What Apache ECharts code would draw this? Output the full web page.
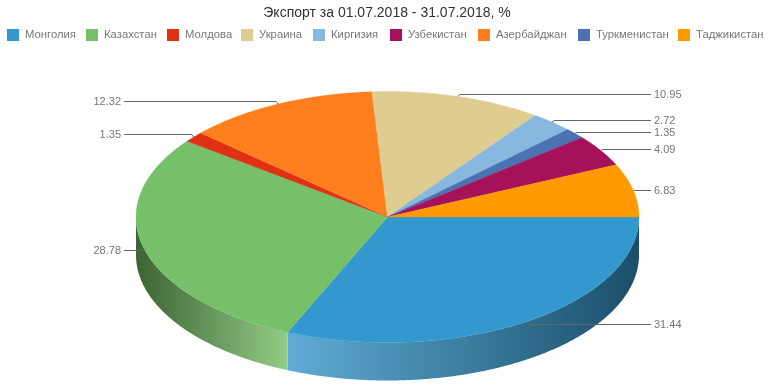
<!DOCTYPE html>
<html><head><meta charset="utf-8">
<style>html,body{margin:0;padding:0;background:#fff}#c{width:774px;height:387px}</style>
<script src="https://cdn.jsdelivr.net/npm/echarts@6/dist/echarts.min.js"></script>
</head><body><div id="c"></div>
<script>
var sliceNames = ['Монголия','Казахстан','Молдова','Азербайджан','Украина','Киргизия','Туркменистан','Узбекистан','Таджикистан'];
var sliceValues = [31.44,28.78,1.35,12.32,10.95,2.72,1.35,4.09,6.83];
var sliceColors = ['#3398CE','#75C069','#E03115','#FF7F1E','#DECC90','#87B8E0','#4B73B4','#A5125A','#FF9900'];
var legendOrder = ['Монголия','Казахстан','Молдова','Украина','Киргизия','Узбекистан','Азербайджан','Туркменистан','Таджикистан'];
var legendLeft = [7,86,167,241,313,390,478,578,678];
var wallStops = {
  'Монголия': ['#1A4E6A','#5FACD6'],
  'Казахстан': ['#93CC86','#3C6332']
};

var cx = 387.5, cy = 217, rx = 251.5, ry = 125.5, depth = 38;
var total = sliceValues.reduce(function(a,b){return a+b;},0);
function pt(a,dy){return [cx+rx*Math.cos(a), cy+ry*Math.sin(a)+(dy||0)];}
function arc(a0,a1,dy){
  var n=Math.max(2,Math.ceil((a1-a0)/(Math.PI/360))), p=[];
  for(var i=0;i<=n;i++){p.push(pt(a0+(a1-a0)*i/n,dy));}
  return p;
}
function startOf(idx){
  var s=0; for(var i=0;i<idx;i++) s+=sliceValues[i];
  return s/total*Math.PI*2;
}
function makeRender(idx){
  return function(params,api){
    var v=api.value(0), a0=startOf(idx), a1=a0+v/total*Math.PI*2, color=sliceColors[idx];
    var children=[];
    var wa1=Math.min(a1,Math.PI);
    if(a0<Math.PI){
      var top=arc(a0,wa1,0), bot=arc(a0,wa1,depth).reverse();
      var stops=wallStops[sliceNames[idx]];
      var x0=pt(a0)[0], x1=pt(wa1)[0];
      children.push({type:'polygon',shape:{points:top.concat(bot)},
        style:{fill:new echarts.graphic.LinearGradient(x0,0,x1,0,[{offset:0,color:stops[0]},{offset:1,color:stops[1]}],true)}});
    }
    children.push({type:'polygon',shape:{points:[[cx,cy]].concat(arc(a0,a1,0))},
      style:{fill:color,stroke:color,lineWidth:0.3}});
    var m=(a0+a1)/2, an=pt(m), s=Math.sin(m), right=Math.cos(m)>0, sign=right?1:-1;
    var ly=Math.floor(an[1]+2.4*s+0.5-((!right&&s<0)?1.2:0))+0.5;
    var endX=right?651:124;
    children.push({type:'polyline',shape:{points:[an,[an[0]+2*sign,ly],[endX,ly]]},
      style:{fill:null,stroke:'#666',lineWidth:1},z2:5});
    children.push({type:'text',x:right?654:121,y:ly,z2:5,
      style:{text:v.toFixed(2),fill:'#777',font:'11px "Liberation Sans"',align:right?'left':'right',verticalAlign:'middle'}});
    return {type:'group',children:children};
  };
}
var chart=echarts.init(document.getElementById('c'),null,{renderer:'canvas'});
chart.setOption({
  animation:false,
  title:{text:'Экспорт за 01.07.2018 - 31.07.2018, %',left:'center',top:1,
    textStyle:{fontFamily:'Liberation Sans',fontSize:14,fontWeight:'normal',color:'#333'}},
  legend:legendOrder.map(function(n,i){
    return {data:[n],left:legendLeft[i],top:29,padding:0,itemGap:0,itemWidth:12,itemHeight:12,icon:'rect',
      textStyle:{fontFamily:'Liberation Sans',fontSize:11.3,color:'#777',padding:[0,0,0,1]}};
  }),
  series:sliceNames.map(function(n,i){
    return {type:'custom',name:n,coordinateSystem:'none',data:[[sliceValues[i]]],
      itemStyle:{color:sliceColors[i]},renderItem:makeRender(i),silent:true};
  })
});
</script></body></html>
